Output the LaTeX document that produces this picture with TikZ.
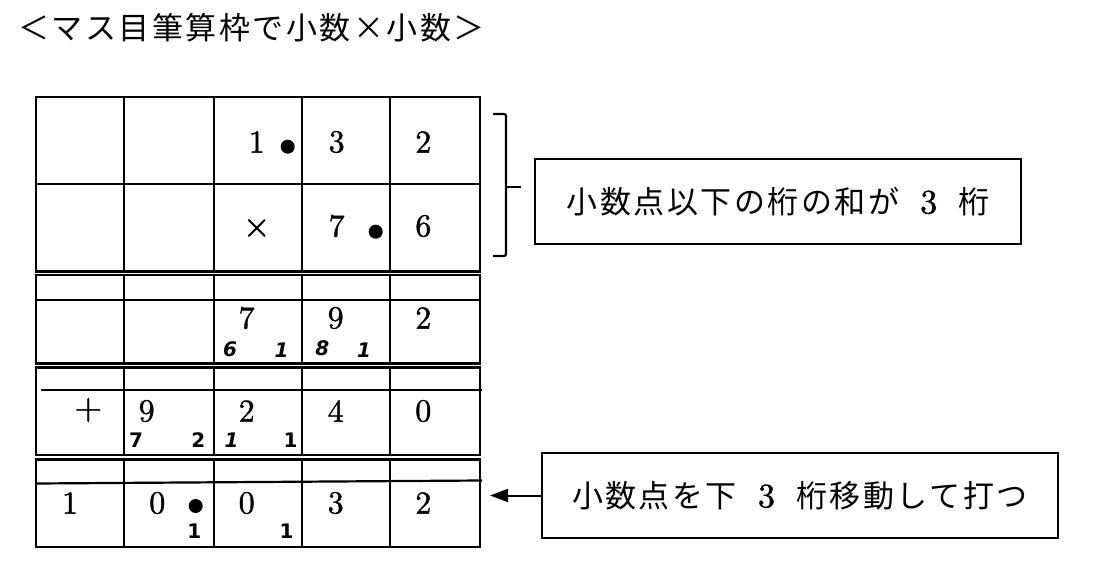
\documentclass[tikz,border=0pt]{standalone}
\usepackage{fontspec}
\newfontfamily\jfont{Noto Sans CJK JP}
\newfontfamily\hand{DejaVu Sans}
\newfontfamily\digfont{lmroman10-regular.otf}[FakeBold=1.2]
\usetikzlibrary{arrows.meta}
\newlength\jw
\setlength\jw{33.5pt}
\def\JSend{\JSend}
\def\JS#1{\JSi#1\JSend}
\def\JSi#1{\ifx#1\JSend\else\makebox[\jw]{#1}\expandafter\JSi\fi}
\begin{document}
\begin{tikzpicture}[x=1pt,y=-1pt,line width=2.2pt,
  dig/.style={inner sep=0pt,font=\digfont\fontsize{32pt}{36pt}\selectfont},
  opsign/.style={inner sep=0pt,font=\digfont\fontsize{36pt}{40pt}\selectfont},
  hw/.style={inner sep=0pt,font=\hand\bfseries\fontsize{20pt}{22pt}\selectfont},
  hwi/.style={inner sep=0pt,font=\hand\bfseries\itshape\fontsize{20pt}{22pt}\selectfont},
  dotmark/.style={circle,fill,inner sep=0pt,minimum size=14pt},
  labelbox/.style={draw,line width=2.2pt,inner sep=0pt,font=\jfont\fontsize{31pt}{34pt}\selectfont},
  titlestyle/.style={inner sep=0pt,anchor=west,font=\jfont\fontsize{31pt}{34pt}\selectfont},
  arrowline/.style={line width=2pt,-{Triangle[length=18pt,width=13pt]}},
]
\useasboundingbox (0,0) rectangle (1102,577);
% title
\node[titlestyle] (title) at (15.8,28) {\JS{＜マス目筆算枠で小数×小数＞}};
% ---------- grid blocks ----------
% block 1
\draw (36,97) rectangle (480,271.5);
\draw (36,184) -- (480,184);
\foreach \x in {124,214,302,390} \draw (\x,97) -- (\x,271.5);
% block 2
\draw (36,275) rectangle (480,363.5);
\draw (36,300) -- (480,300);
\foreach \x in {124,214,302,390} \draw (\x,275) -- (\x,363.5);
% block 3
\draw (36,367.5) rectangle (480,455);
\draw (41,390) -- (482,390);
\foreach \x in {124,214,302,390} \draw (\x,367.5) -- (\x,455);
% block 4
\draw (36,459.5) rectangle (480,546.7);
\draw (36,483.5) -- (482,480.5);
\foreach \x in {124,214,302,390} \draw (\x,459.5) -- (\x,546.7);
% ---------- digits ----------
\node[dig] (a1) at (256.7,142) {1};
\node[dotmark] (ad) at (287.7,146.7) {};
\node[dig] (a2) at (336.7,142) {3};
\node[dig] (a3) at (423.3,142) {2};
\node[opsign] (b0) at (256.7,228) {×};
\node[dig] (b1) at (336.7,226) {7};
\node[dotmark] (bd) at (375.7,231.7) {};
\node[dig] (b2) at (423.3,226) {6};
% partial product 1
\node[dig] (c1) at (246.7,318) {7};
\node[dig] (c2) at (335.7,318) {9};
\node[dig] (c3) at (423.3,318) {2};
\node[hwi] (c1a) at (230,349.3) {6};
\node[hwi] (c1b) at (281.7,350) {1};
\node[hwi] (c2a) at (322.3,348.3) {8};
\node[hwi] (c2b) at (364,350) {1};
% partial product 2
\node[opsign] (e0) at (88.3,410) {+};
\node[dig] (e1) at (146.7,411) {9};
\node[dig] (e2) at (246.7,411) {2};
\node[dig] (e3) at (335.7,411) {4};
\node[dig] (e4) at (423.3,411) {0};
\node[hw] (e1a) at (136,440) {7};
\node[hw] (e1b) at (198.3,440) {2};
\node[hwi] (e2a) at (231.7,440) {1};
\node[hw] (e2b) at (290.7,440) {1};
% result
\node[dig] (f0) at (70,503) {1};
\node[dig] (f1) at (157.3,503) {0};
\node[dotmark] (fd) at (195.7,506) {};
\node[dig] (f2) at (246.7,503) {0};
\node[dig] (f3) at (335.7,503) {3};
\node[dig] (f4) at (423.3,503) {2};
\node[hw] (f1a) at (194.3,531.7) {1};
\node[hw] (f2a) at (286.7,531.7) {1};
% ---------- bracket ----------
\draw[rounded corners=2pt] (493,114) -- (506,114) -- (506,256) -- (493,256);
\draw (506,187) -- (521,187);
% ---------- label boxes ----------
\node[labelbox,minimum width=486pt,minimum height=85pt] (box1) at (778,201.5)
  {\JS{小数点以下の桁の和が}\makebox[56.5pt]{\digfont\fontsize{34pt}{36pt}\selectfont 3}\JS{桁}\hspace{13pt}};
\node[labelbox,minimum width=516pt,minimum height=85pt] (box2) at (800,495.5)
  {\JS{小数点を下}\makebox[56.5pt]{\digfont\fontsize{34pt}{36pt}\selectfont 3}\JS{桁移動して打つ}\hspace{14pt}};
\coordinate (tip) at (490,495.5);
\draw[arrowline] (box2.west) -- (tip);
\end{tikzpicture}
\end{document}
